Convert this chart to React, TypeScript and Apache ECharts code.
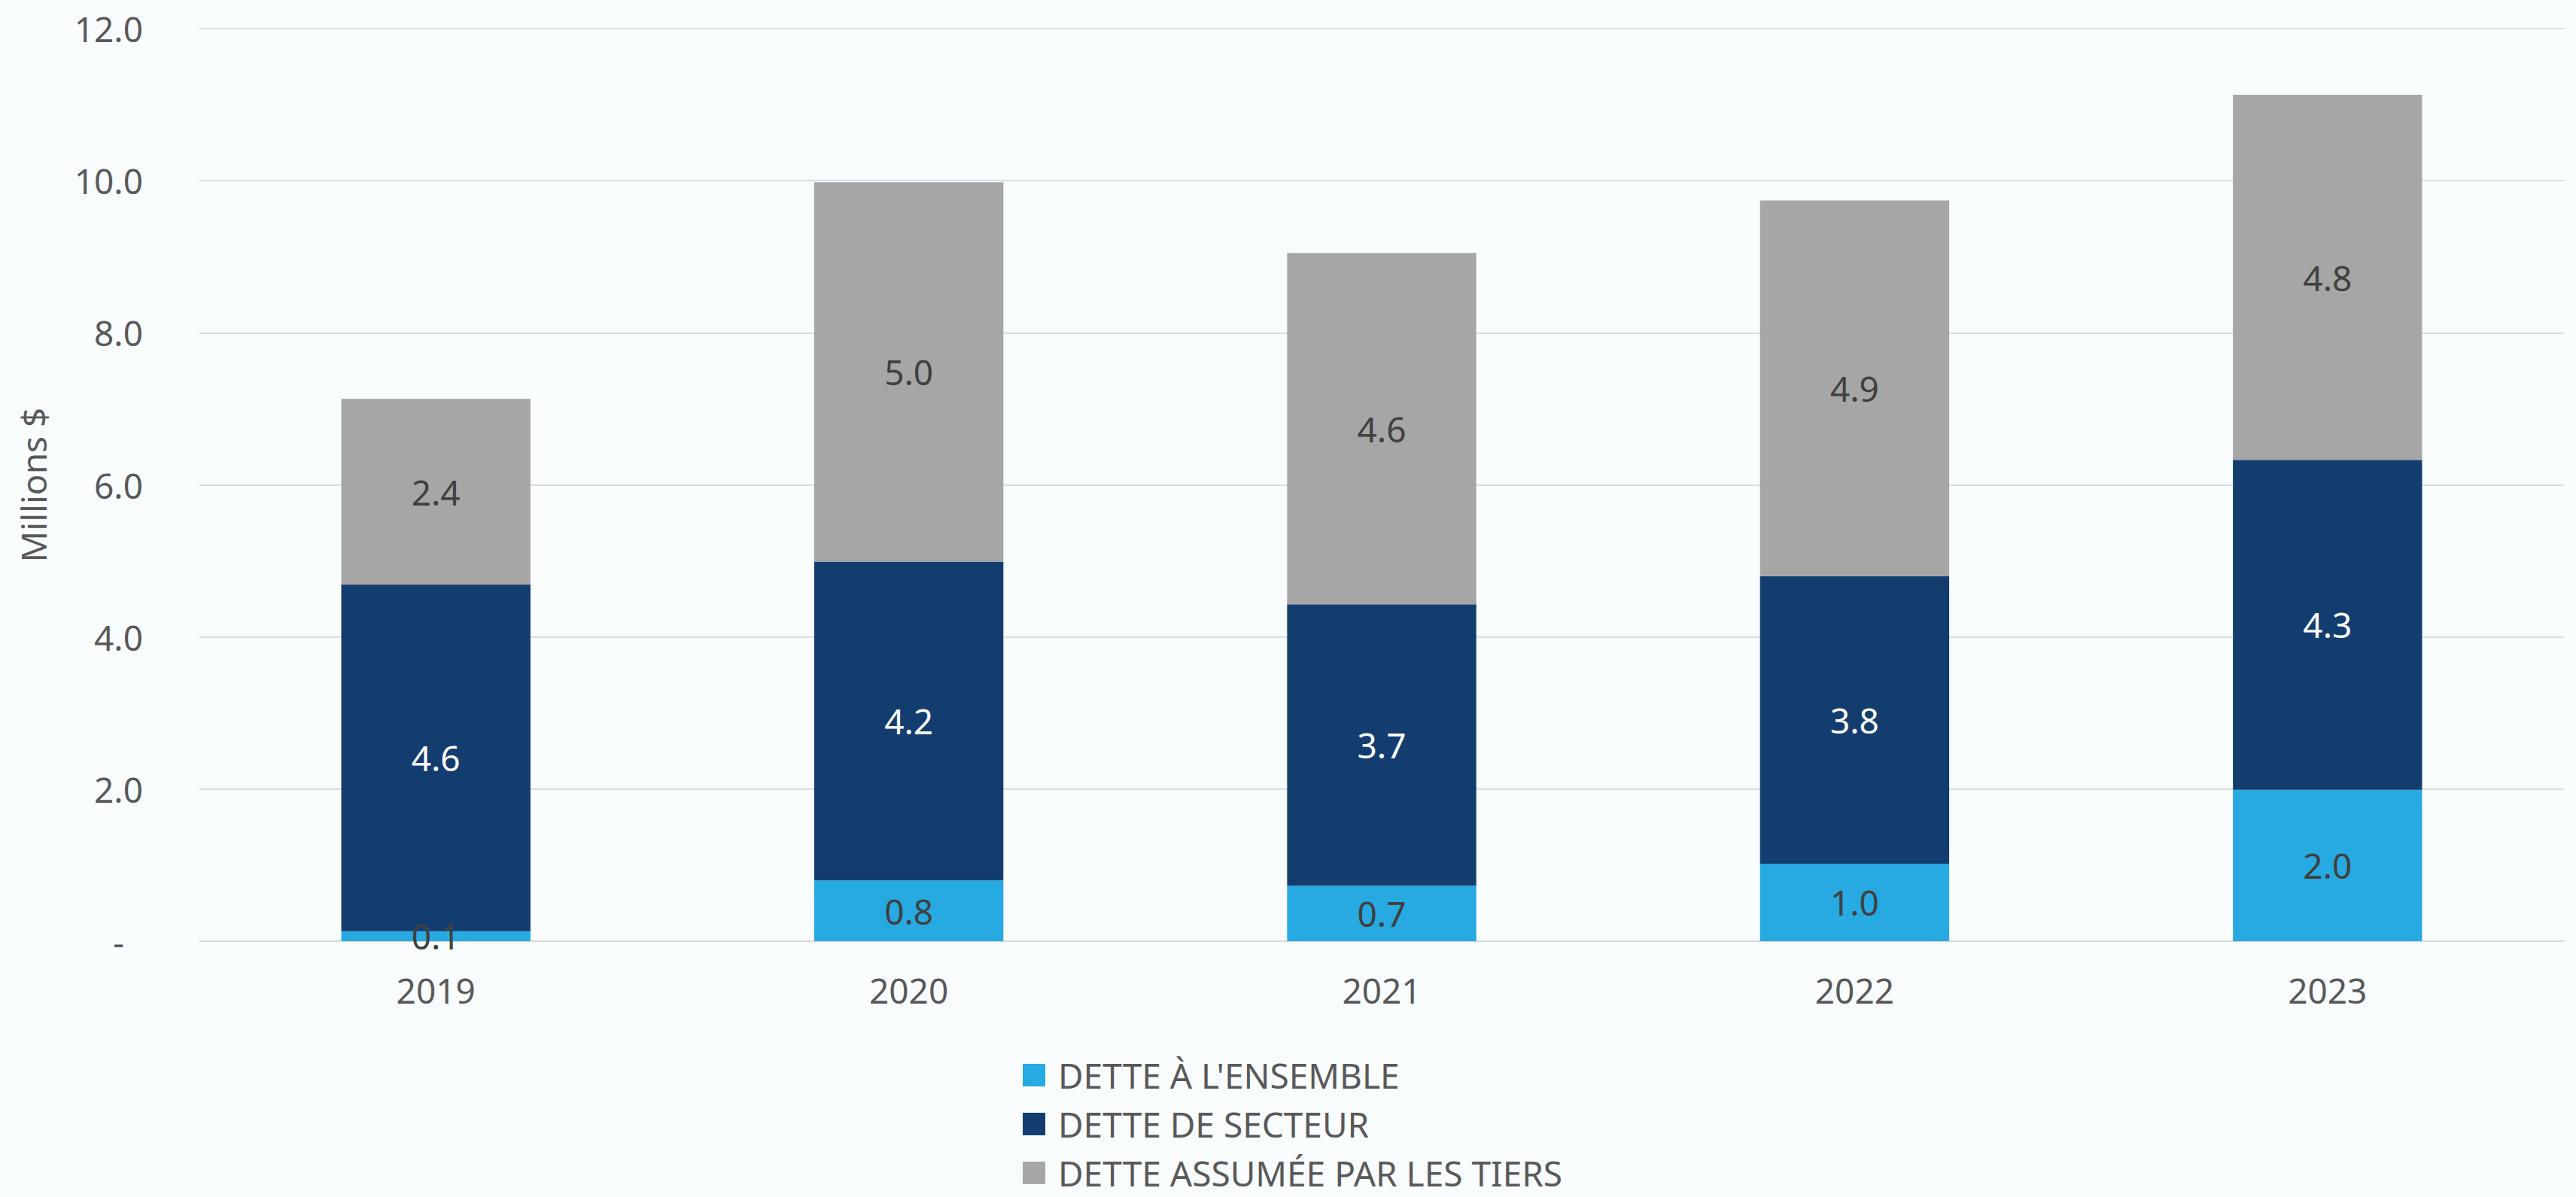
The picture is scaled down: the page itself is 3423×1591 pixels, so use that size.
import React, { useEffect, useRef } from "react";
import * as echarts from "echarts";

const categories = ["2019", "2020", "2021", "2022", "2023"];
const seriesNames = ["DETTE À L'ENSEMBLE", "DETTE DE SECTEUR", "DETTE ASSUMÉE PAR LES TIERS"];
const ensemble = [0.13, 0.8, 0.73, 1.02, 1.99];
const secteur = [4.56, 4.19, 3.7, 3.78, 4.34];
const tiers = [2.44, 4.99, 4.62, 4.94, 4.8];
const colors = ["#27A9E1", "#143D6F", "#A6A6A6"];
const labelColors = ["#404040", "#FFFFFF", "#404040"];

const FONT = "'Noto Sans', sans-serif";
const legendCenters = [1426, 1491, 1556];

export default function App() {
  const ref = useRef<HTMLDivElement>(null);
  useEffect(() => {
    if (!ref.current) return;
    const chart = echarts.init(ref.current, undefined, { renderer: "svg" });
    const values = [ensemble, secteur, tiers];
    chart.setOption({
      animation: false,
      backgroundColor: "#F8FCFD",
      textStyle: { fontFamily: FONT },
      grid: { left: 265, right: 16, top: 38, bottom: 340, containLabel: false },
      legend: seriesNames.map((name, i) => ({
        orient: "vertical",
        left: 1359,
        top: legendCenters[i] - 20,
        padding: 0,
        itemWidth: 30,
        itemHeight: 30,
        icon: "rect",
        data: [name],
        textStyle: {
          fontFamily: FONT,
          fontSize: 46,
          color: "#595959",
          lineHeight: 40,
          padding: [0, 0, 0, 12],
        },
      })),
      xAxis: {
        type: "category",
        data: categories,
        axisLine: { show: true, lineStyle: { color: "#D9D9D9", width: 2 } },
        axisTick: { show: false },
        axisLabel: { fontFamily: FONT, fontSize: 46, color: "#595959", margin: 42 },
      },
      yAxis: {
        type: "value",
        min: 0,
        max: 12,
        interval: 2,
        name: "Millions $",
        nameLocation: "middle",
        nameGap: 198,
        nameRotate: 90,
        nameTextStyle: { fontFamily: FONT, fontSize: 46, color: "#595959" },
        axisLine: { show: false },
        axisTick: { show: false },
        splitLine: { lineStyle: { color: "#DADDE0", width: 2 } },
        axisLabel: {
          fontFamily: FONT,
          fontSize: 46,
          color: "#595959",
          margin: 75,
          formatter: (v: number) => (v === 0 ? "{d|-}" : v.toFixed(1)),
          rich: {
            d: { fontFamily: FONT, fontSize: 46, color: "#595959", padding: [0, 25, 0, 0] },
          },
        },
      },
      series: seriesNames.map((name, i) => ({
        name,
        type: "bar",
        stack: "total",
        barWidth: "40%",
        data: values[i],
        itemStyle: { color: colors[i] },
        label: {
          show: true,
          position: "inside",
          fontFamily: FONT,
          fontSize: 46,
          color: labelColors[i],
          formatter: (p: any) => (p.value as number).toFixed(1),
        },
      })),
    });
    return () => chart.dispose();
  }, []);
  return (
    <div
      ref={ref}
      style={{ position: "fixed", left: 0, top: 0, width: "3423px", height: "1591px" }}
    />
  );
}
